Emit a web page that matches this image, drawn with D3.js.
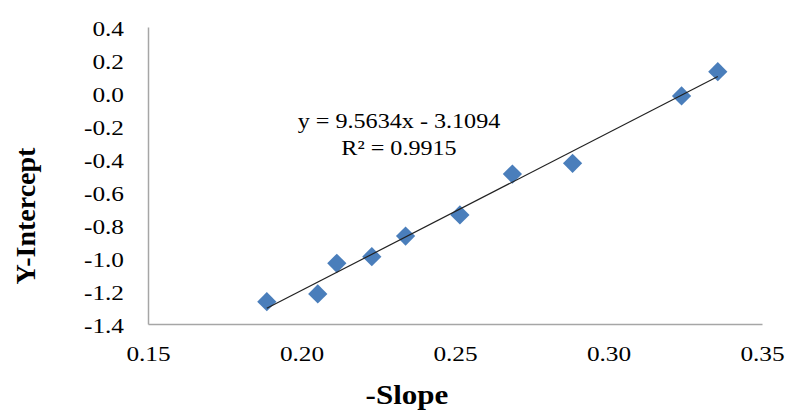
<!DOCTYPE html>
<html>
<head>
<meta charset="utf-8">
<script src="https://cdn.jsdelivr.net/npm/d3@7"></script>
<style>
  html, body { margin: 0; padding: 0; background: #fff; }
  svg { display: block; font-family: "Liberation Serif", "Times New Roman", serif; }
</style>
</head>
<body>
<svg id="chart" width="787" height="414"></svg>
<script>
// Measured points: negative slope vs. y-intercept
const negSlope = [0.1887, 0.2053, 0.2115, 0.2229, 0.2339, 0.2516, 0.2687, 0.2883, 0.3238, 0.3356];
const yIntercept = [-1.265, -1.218, -1.032, -0.992, -0.867, -0.739, -0.491, -0.426, -0.018, 0.129];

// Linear fit reported on the chart
const fitSlope = 9.5634;
const fitIntercept = -3.1094;
const fitR2 = 0.9915;

const xTicks = [0.15, 0.20, 0.25, 0.30, 0.35];
const yTicks = [0.4, 0.2, 0.0, -0.2, -0.4, -0.6, -0.8, -1.0, -1.2, -1.4];

const svg = d3.select("#chart");
const W = 787, H = 414;
const plot = { left: 148, right: 762, top: 27, bottom: 324 };
const stretch = 1.15; // horizontally widened type

svg.append("rect").attr("width", W).attr("height", H).attr("fill", "#fff");

const x = d3.scaleLinear().domain([0.15, 0.35]).range([plot.left, plot.right]);
const y = d3.scaleLinear().domain([-1.4, 0.4]).range([plot.bottom, plot.top]);

// Plain hyphen for negative numbers
const fmt = f => v => d3.format(f)(v).replace("\u2212", "-");

// Axes (no tick marks, grey axis lines)
const xAxis = svg.append("g")
  .attr("transform", `translate(0,${plot.bottom})`)
  .call(d3.axisBottom(x).tickValues(xTicks).tickSize(0).tickPadding(0).tickFormat(fmt(".2f")));
xAxis.select(".domain").attr("stroke", "#a6a6a6").attr("stroke-width", 1.5);
xAxis.selectAll(".tick text")
  .attr("y", 0).attr("dy", 0)
  .attr("font-size", 22)
  .attr("fill", "#000")
  .attr("font-family", "Liberation Serif, serif")
  .attr("transform", `translate(0,37) scale(${stretch},1)`);

const yAxis = svg.append("g")
  .attr("transform", `translate(${plot.left},0)`)
  .call(d3.axisLeft(y).tickValues(yTicks).tickSize(0).tickPadding(0).tickFormat(fmt(".1f")));
yAxis.select(".domain").attr("stroke", "#a6a6a6").attr("stroke-width", 1.5);
yAxis.selectAll(".tick text")
  .attr("x", 0).attr("dy", 0).attr("y", 0)
  .attr("font-size", 22)
  .attr("fill", "#000")
  .attr("font-family", "Liberation Serif, serif")
  .attr("transform", `translate(-24,8) scale(${stretch},1)`);

// Markers: blue diamonds
const pts = negSlope.map((v, i) => [v, yIntercept[i]]);
const diamond = d3.symbol().type(d3.symbolSquare).size(185);
svg.append("g").selectAll("path")
  .data(pts)
  .join("path")
  .attr("d", diamond)
  .attr("transform", d => `translate(${x(d[0])},${y(d[1])}) rotate(45)`)
  .attr("fill", "#4a7ebb");

// Trendline across the data range
const xMin = d3.min(negSlope), xMax = d3.max(negSlope);
const fit = v => fitSlope * v + fitIntercept;
svg.append("line")
  .attr("x1", x(xMin)).attr("y1", y(fit(xMin)))
  .attr("x2", x(xMax)).attr("y2", y(fit(xMax)))
  .attr("stroke", "#222").attr("stroke-width", 1.2);

// Equation label
const eq = svg.append("g").attr("font-size", 21).attr("fill", "#000").attr("text-anchor", "middle");
eq.append("text")
  .attr("transform", `translate(399,128) scale(${stretch},1)`)
  .text(`y = ${fitSlope}x - ${Math.abs(fitIntercept)}`);
eq.append("text")
  .attr("transform", `translate(399,155) scale(${stretch},1)`)
  .text(`R\u00B2 = ${fitR2}`);

// Axis titles
svg.append("text")
  .attr("transform", `translate(407,404) scale(${stretch},1)`)
  .attr("text-anchor", "middle")
  .attr("font-size", 27).attr("font-weight", "bold")
  .text("-Slope");

svg.append("text")
  .attr("transform", `translate(35,216) rotate(-90)`)
  .attr("text-anchor", "middle")
  .attr("font-size", 28).attr("font-weight", "bold")
  .text("Y-Intercept");
</script>
</body>
</html>
